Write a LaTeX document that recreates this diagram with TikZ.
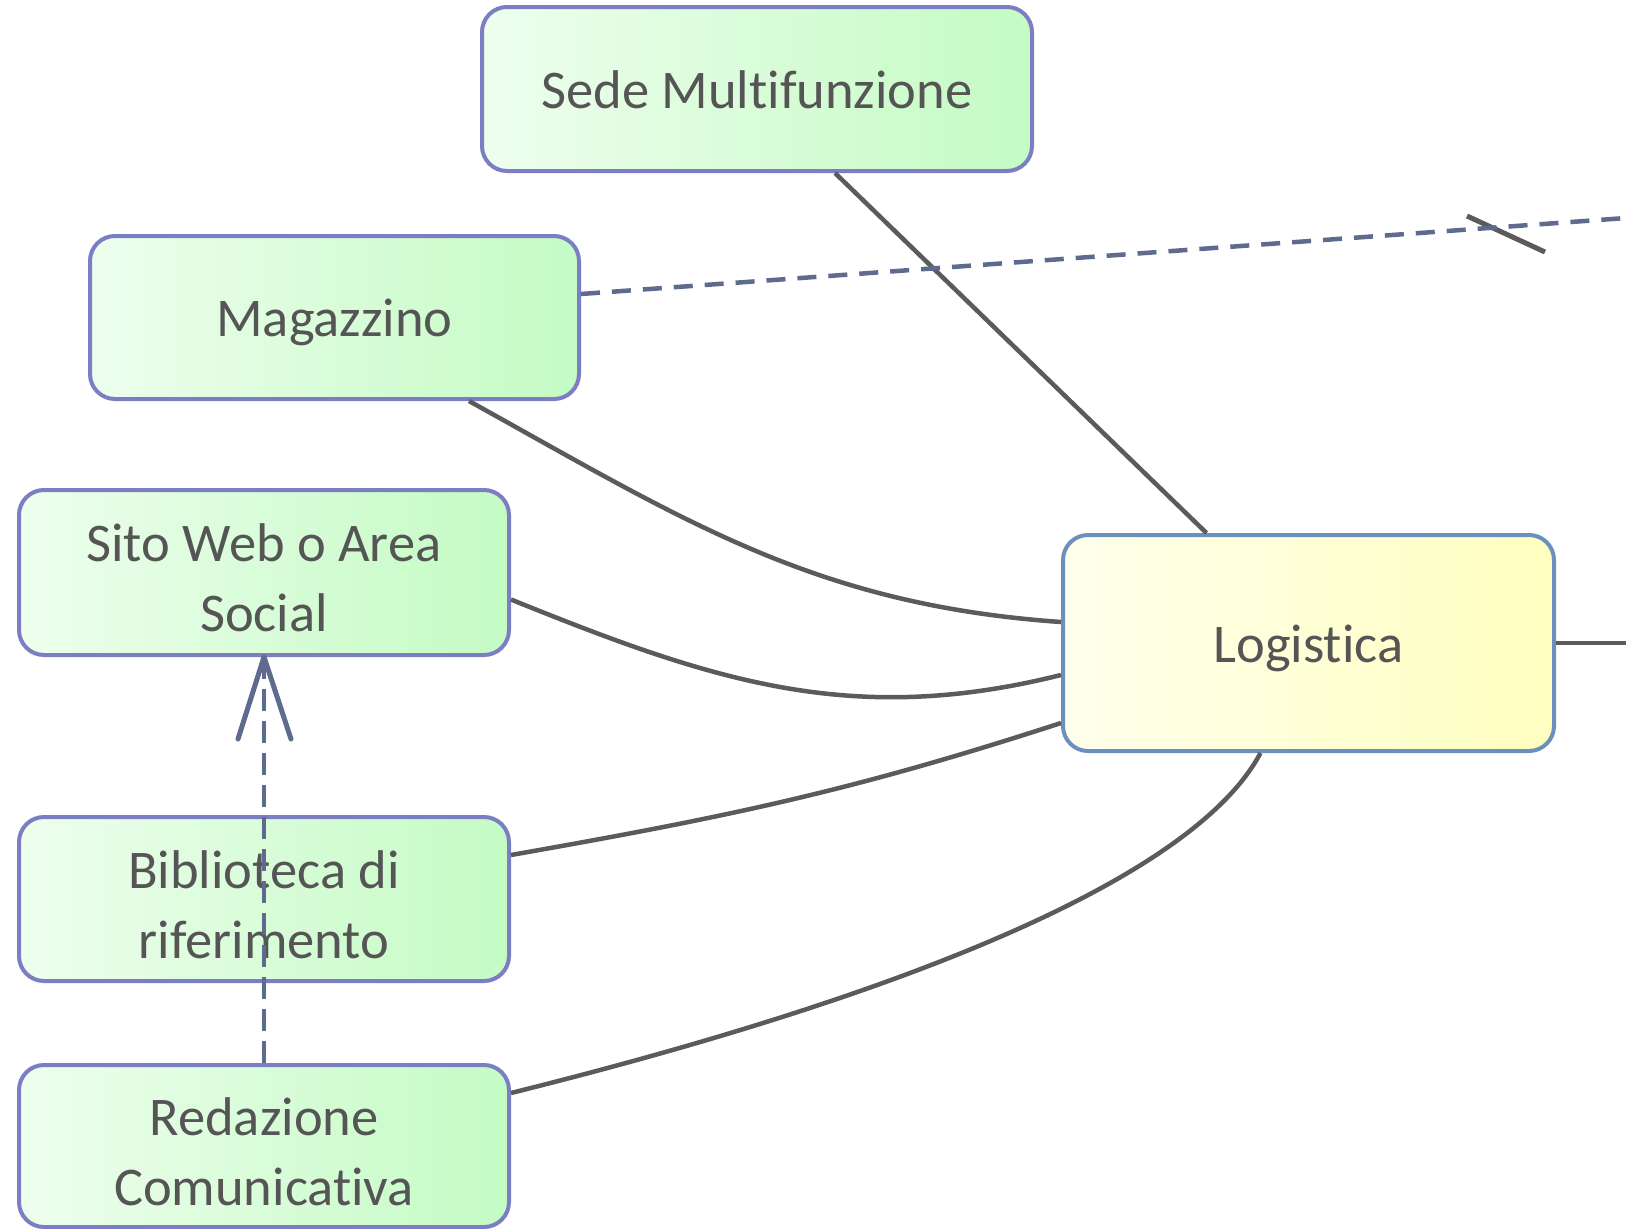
\documentclass[tikz,border=0pt]{standalone}
\usepackage{fontspec}
\setmainfont{Carlito}[Ligatures=NoCommon]
\usetikzlibrary{calc}
\definecolor{txt}{HTML}{555555}
\definecolor{gborder}{HTML}{7B7EC2}
\definecolor{gleft}{HTML}{EEFEEE}
\definecolor{gmid}{HTML}{E0FDE0}
\definecolor{gright}{HTML}{C4FBC4}
\definecolor{yborder}{HTML}{6B90BC}
\definecolor{yleft}{HTML}{FFFFEC}
\definecolor{ymid}{HTML}{FFFFDA}
\definecolor{yright}{HTML}{FFFFC0}
\definecolor{conn}{HTML}{5B5B5B}
\definecolor{dash}{HTML}{5E6A8E}
\newcommand{\lowtext}[1]{\raisebox{-5pt}[\height][\depth]{\begin{tabular}{@{}c@{}}#1\end{tabular}}}
\newcommand{\lowtextb}[1]{\raisebox{-10pt}[\height][\depth]{\begin{tabular}{@{}c@{}}#1\end{tabular}}}
\tikzset{
  gbox/.style={draw=gborder, line width=4pt, rounded corners=25pt, left color=gleft, middle color=gmid, right color=gright,
    text=txt, align=center, inner sep=0pt, font=\fontsize{54.5}{70}\selectfont},
  ybox/.style={draw=yborder, line width=4pt, rounded corners=25pt, left color=yleft, middle color=ymid, right color=yright,
    text=txt, align=center, inner sep=0pt, font=\fontsize{54.5}{70}\selectfont},
  link/.style={draw=conn, line width=4.5pt},
  dlink/.style={draw=dash, line width=4.5pt, dash pattern=on 19pt off 12pt},
}
\begin{document}
\begin{tikzpicture}[x=1pt,y=-1pt]
\useasboundingbox[fill=white] (0,0) rectangle (1626,1229);
% free ends
\coordinate (rend) at (1626,643);
\coordinate (dend) at (1626,218);
\coordinate (s1) at (1467,216);
\coordinate (s2) at (1545,252);
\node[gbox, minimum width=550pt, minimum height=164pt] (sede) at (757,89) {\lowtext{Sede Multifunzione}};
\node[gbox, minimum width=489pt, minimum height=163pt] (mag) at (334.5,317.5) {\lowtext{Magazzino}};
\node[gbox, minimum width=490pt, minimum height=165pt] (sito) at (264,572.5) {\lowtextb{Sito Web o Area\\Social}};
\node[gbox, minimum width=490pt, minimum height=164pt] (bib) at (264,899) {\lowtextb{Biblioteca di\\riferimento}};
\node[gbox, minimum width=490pt, minimum height=162pt] (red) at (264,1146) {\lowtextb{Redazione\\Comunicativa}};
\node[ybox, minimum width=491pt, minimum height=216pt] (log) at (1308.5,643) {\lowtext{Logistica}};
\draw[link] ([xshift=78pt]sede.south) -- ([xshift=-102pt]log.north);
\draw[link] ([xshift=134.5pt]mag.south) to[out=-29,in=176] ([yshift=21pt]log.west);
\draw[link] ([yshift=-27pt]sito.east) to[out=-22,in=-166] ([yshift=-32pt]log.west);
\draw[link] ([yshift=44pt]bib.east) to[out=10,in=-162] ([yshift=-80pt]log.west);
\draw[link] ([yshift=53pt]red.east) to[out=14,in=-118,out looseness=1.38,in looseness=0.41] ([xshift=-48pt]log.south);
\draw[link] (log.east) -- (rend);
\draw[draw=conn, line width=5pt] (s1) -- (s2);
\draw[dlink] ([yshift=23.5pt]mag.east) -- (dend);
\draw[dlink, dash pattern=on 22pt off 10pt] (red.north) -- (sito.south);
\draw[draw=dash, line width=5pt, line cap=round, line join=round]
  ([xshift=-26pt,yshift=-82pt]sito.south) -- (sito.south) -- ([xshift=27pt,yshift=-82pt]sito.south);
\end{tikzpicture}
\end{document}
